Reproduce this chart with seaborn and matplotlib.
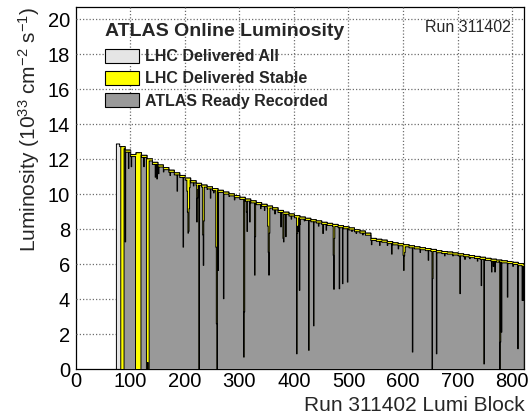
import numpy as np
import pandas as pd
import seaborn as sns
import matplotlib.pyplot as plt
from matplotlib.patches import Patch, Polygon
from matplotlib.ticker import MultipleLocator

# ---- data ----
first_block, last_block = 74, 821      # delivered lumi blocks [first, last)
stable_from = 82                       # stable beams flag from this block
recorded_from = 88                     # ATLAS ready from this block

# delivered luminosity (1e33), one value per 10 lumi blocks, starting at block 70
delivered_per10 = [
    12.9, 12.75, 12.55, 12.3, 12.4, 12.25, 12.05, 11.85, 11.7, 11.55,
    11.4, 11.25, 11.1, 10.95, 10.8, 10.65, 10.55, 10.45, 10.35, 10.25,
    10.15, 10.05, 9.95, 9.85, 9.75, 9.65, 9.55, 9.45, 9.35, 9.25,
    9.1, 9.0, 8.9, 8.8, 8.72, 8.65, 8.57, 8.5, 8.42, 8.36,
    8.3, 8.23, 8.17, 8.1, 8.0, 7.92, 7.8, 7.5, 7.45, 7.4,
    7.32, 7.25, 7.2, 7.14, 7.08, 7.02, 6.97, 6.92, 6.87, 6.8,
    6.75, 6.72, 6.67, 6.62, 6.57, 6.52, 6.47, 6.42, 6.36, 6.31,
    6.26, 6.22, 6.18, 6.13, 6.06, 6.02,
]
recorded_loss = 0.12                   # gap between stable and recorded at the top
recorded_gaps = [(109, 119), (129, 134)]

# single lumi blocks where the recorded luminosity drops
dip_blocks = [
    90, 96, 101, 124, 131, 145, 148, 151, 160, 172, 185, 196,
    203, 204, 205, 206, 207, 208, 215, 221, 222, 223, 225,
    232, 233, 234, 240, 246, 252, 256, 257, 258, 260, 270, 280, 290,
    307, 308, 312, 313, 318, 327, 328, 338, 345,
    351, 352, 353, 354, 364, 375, 379, 380, 384, 394,
    404, 405, 406, 407, 409, 410, 418, 426, 435, 444, 452, 458,
    471, 472, 473, 482, 488, 497, 505, 513, 525, 541, 556, 570, 578, 590,
    599, 600, 601, 602, 616, 630, 645, 652, 653, 660, 675, 690,
    703, 712, 721, 735, 742, 747, 761, 764, 767,
    775, 776, 777, 779, 790, 800, 809, 817, 818, 819,
]
dip_values = [
    7.3, 11.5, 11.6, 11.6, 0.4, 11.0, 10.9, 11.2, 11.3, 11.1, 10.2, 7.0,
    10.2, 9.0, 7.8, 7.9, 9.2, 10.4, 10.5, 8.44, 9.8, 10.3, 0.0,
    7.7, 5.96, 8.5, 10.3, 9.8, 10.1, 7.0, 2.62, 0.0, 5.67, 4.05, 9.9, 9.7,
    0.71, 3.3, 9.0, 7.9, 8.44, 5.4, 7.6, 9.2, 9.1,
    8.2, 6.7, 5.4, 7.8, 8.9, 8.16, 7.5, 7.3, 7.6, 8.6,
    0.9, 7.78, 8.2, 7.9, 4.53, 8.3, 8.5, 1.1, 2.5, 8.2, 7.78, 7.97,
    6.53, 4.59, 7.5, 4.62, 4.91, 5.0, 7.9, 7.78, 7.7, 7.14, 7.1, 7.1, 6.6, 6.9,
    6.53, 5.67, 6.5, 6.7, 1.0, 6.7, 6.25, 0.0, 5.2, 0.9, 6.5, 6.5,
    4.34, 6.3, 6.34, 6.2, 4.8, 0.32, 5.58, 5.9, 5.58,
    6.2, 0.0, 1.57, 2.14, 4.14, 5.9, 1.19, 3.95, 5.9, 3.95,
]

xlabel = "Run 311402 Lumi Block"
ylabel = r"Luminosity (10$^{33}$ cm$^{-2}$ s$^{-1}$)"
title = "ATLAS Online Luminosity"
run_text = "Run 311402"
series_names = ["LHC Delivered All", "LHC Delivered Stable", "ATLAS Ready Recorded"]
series_colors = ["#e5e5e5", "#ffff00", "#999999"]
x_max, y_max = 822, 20.7

# ---- build per-block table ----
blocks = np.arange(first_block, last_block)
delivered = np.array(delivered_per10)[(blocks - 70) // 10]
stable = np.where(blocks >= stable_from, delivered, 0.0)
recorded = np.where(blocks >= recorded_from, delivered - recorded_loss, 0.0)
for lo, hi in recorded_gaps:
    recorded[(blocks >= lo) & (blocks < hi)] = 0.0
for b, v in zip(dip_blocks, dip_values):
    recorded[b - first_block] = v

df = pd.DataFrame({
    "center": blocks + 0.5,
    "delivered": delivered,
    "stable": stable,
    "recorded": recorded,
})

sns.set_style("white")
plt.rcParams["font.family"] = ["Liberation Sans", "DejaVu Sans"]
plt.rcParams["mathtext.default"] = "regular"

fig = plt.figure(figsize=(5.28, 4.17), dpi=100)
ax = fig.add_axes([0.143, 0.115, 0.850, 0.868])

for col, color, z in zip(["delivered", "stable", "recorded"], series_colors, [2, 3, 4]):
    sns.histplot(data=df, x="center", weights=col, binwidth=1,
                 binrange=(first_block, last_block), element="step",
                 fill=True, color=color, edgecolor="black", linewidth=0.7,
                 alpha=1, ax=ax, zorder=z)

ax.set_xlim(0, x_max)
ax.set_ylim(0, y_max)
ax.xaxis.set_major_locator(MultipleLocator(100))
ax.xaxis.set_minor_locator(MultipleLocator(20))
ax.yaxis.set_major_locator(MultipleLocator(2))
ax.yaxis.set_minor_locator(MultipleLocator(0.5))
ax.tick_params(which="both", direction="in", top=False, right=False, width=0.8,
               colors="black")
ax.tick_params(which="major", length=8, labelsize=14.5, pad=2)
ax.tick_params(axis="y", which="major", pad=4)
ax.tick_params(which="minor", length=4)
for spine in ax.spines.values():
    spine.set_color("black")
    spine.set_linewidth(0.9)

# dotted grid: drawn on top, but clipped to the empty area above the delivered curve
edges = np.arange(first_block, last_block + 1)
step_x = np.repeat(edges, 2)[1:-1]
step_y = np.repeat(delivered, 2)
above = ([(0, 0), (first_block, 0)] + list(zip(step_x, step_y))
         + [(last_block, 0), (x_max, 0), (x_max, y_max), (0, y_max)])
clip = Polygon(above, closed=True, transform=ax.transData,
               facecolor="none", edgecolor="none")

grid_kw = dict(colors="#6e6e6e", linewidth=0.9, linestyles=(0, (1, 1.6)), zorder=10)
vl = ax.vlines(np.arange(100, x_max, 100), 0, y_max, **grid_kw)
hl = ax.hlines(np.arange(2, y_max, 2), 0, x_max, **grid_kw)
vl.set_clip_path(clip)
hl.set_clip_path(clip)

ax.set_xlabel(xlabel, fontsize=15, loc="right", labelpad=4)
ax.set_ylabel(ylabel, fontsize=15, loc="top", labelpad=4)

fig.text(105 / 528, 1 - 31 / 417, title, fontsize=14, fontweight="bold",
         ha="left", va="center")
fig.text(511 / 528, 1 - 28 / 417, run_text, fontsize=11.5, ha="right", va="center")

handles = [Patch(facecolor=c, edgecolor="black", linewidth=0.8) for c in series_colors]
fig.legend(handles, series_names, loc="upper left",
           bbox_to_anchor=(105 / 528, 1 - 49 / 417), frameon=False,
           prop={"weight": "bold", "size": 11.5}, handlelength=2.1,
           handleheight=0.95, handletextpad=0.4, labelspacing=0.42, borderpad=0,
           borderaxespad=0)

fig.savefig("out.png", dpi=100)
